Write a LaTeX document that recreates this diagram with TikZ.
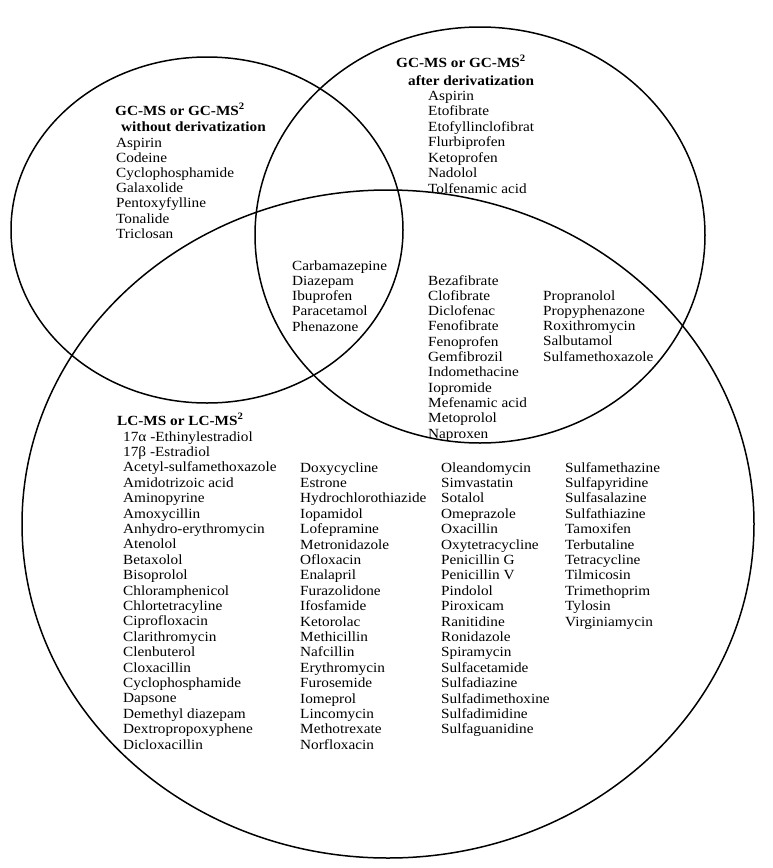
\documentclass[tikz,border=0pt]{standalone}
\usepackage{fontspec}
\setmainfont{Liberation Serif}[FakeStretch=1.09]
\begin{document}
\begin{tikzpicture}[x=1pt,y=-1pt,
  item/.style={anchor=base west, inner sep=0pt, font=\fontsize{14}{15.4}\selectfont},
  ttl/.style={anchor=base west, inner sep=0pt, font=\fontsize{14}{16}\selectfont\bfseries},
  ring/.style={draw=black, line width=1.5pt}]
\useasboundingbox (0,0) rectangle (772,868);
\draw[ring] (207,230) ellipse [x radius=196pt, y radius=173pt];
\draw[ring] (480,235) ellipse [x radius=225pt, y radius=208pt];
\draw[ring] (388,524) ellipse [x radius=366pt, y radius=334pt];
% titles
\node[ttl] (t1a) at (115,115) {GC-MS or GC-MS\textsuperscript{2}};
\node[ttl] (t1b) at (121,131) {without derivatization};
\node[ttl] (t2a) at (396,67) {GC-MS or GC-MS\textsuperscript{2}};
\node[ttl] (t2b) at (408,85) {after derivatization};
\node[ttl] (t3a) at (117,425) {LC-MS or LC-MS\textsuperscript{2}};
% left list
\foreach \t [count=\i from 0] in {Aspirin,Codeine,Cyclophosphamide,Galaxolide,Pentoxyfylline,Tonalide,Triclosan}
  \node[item] (L\i) at ({116},{147+15.2*\i}) {\t};
% right list
\foreach \t [count=\i from 0] in {Aspirin,Etofibrate,Etofyllinclofibrat,Flurbiprofen,Ketoprofen,Nadolol,Tolfenamic acid}
  \node[item] (R\i) at ({428},{100+15.5*\i}) {\t};
% centre
\foreach \t [count=\i from 0] in {Carbamazepine,Diazepam,Ibuprofen,Paracetamol,Phenazone}
  \node[item] (C\i) at ({292},{270+15.3*\i}) {\t};
\foreach \t [count=\i from 0] in {Bezafibrate,Clofibrate,Diclofenac,Fenofibrate,Fenoprofen,Gemfibrozil,Indomethacine,Iopromide,Mefenamic acid,Metoprolol,Naproxen}
  \node[item] (B\i) at ({428},{285+15.3*\i}) {\t};
\foreach \t [count=\i from 0] in {Propranolol,Propyphenazone,Roxithromycin,Salbutamol,Sulfamethoxazole}
  \node[item] (P\i) at ({543},{300+15.3*\i}) {\t};
% LC-MS columns
\foreach \t [count=\i from 0] in {17α -Ethinylestradiol,17β -Estradiol,Acetyl-sulfamethoxazole,Amidotrizoic acid,Aminopyrine,Amoxycillin,Anhydro-erythromycin,Atenolol,Betaxolol,Bisoprolol,Chloramphenicol,Chlortetracyline,Ciprofloxacin,Clarithromycin,Clenbuterol,Cloxacillin,Cyclophosphamide,Dapsone,Demethyl diazepam,Dextropropoxyphene,Dicloxacillin}
  \node[item] (A\i) at ({123},{441+15.4*\i}) {\t};
\foreach \t [count=\i from 0] in {Doxycycline,Estrone,Hydrochlorothiazide,Iopamidol,Lofepramine,Metronidazole,Ofloxacin,Enalapril,Furazolidone,Ifosfamide,Ketorolac,Methicillin,Nafcillin,Erythromycin,Furosemide,Iomeprol,Lincomycin,Methotrexate,Norfloxacin}
  \node[item] (D\i) at ({300},{472+15.4*\i}) {\t};
\foreach \t [count=\i from 0] in {Oleandomycin,Simvastatin,Sotalol,Omeprazole,Oxacillin,Oxytetracycline,Penicillin G,Penicillin V,Pindolol,Piroxicam,Ranitidine,Ronidazole,Spiramycin,Sulfacetamide,Sulfadiazine,Sulfadimethoxine,Sulfadimidine,Sulfaguanidine}
  \node[item] (O\i) at ({441},{472+15.4*\i}) {\t};
\foreach \t [count=\i from 0] in {Sulfamethazine,Sulfapyridine,Sulfasalazine,Sulfathiazine,Tamoxifen,Terbutaline,Tetracycline,Tilmicosin,Trimethoprim,Tylosin,Virginiamycin}
  \node[item] (S\i) at ({565},{472+15.4*\i}) {\t};
\end{tikzpicture}
\end{document}
